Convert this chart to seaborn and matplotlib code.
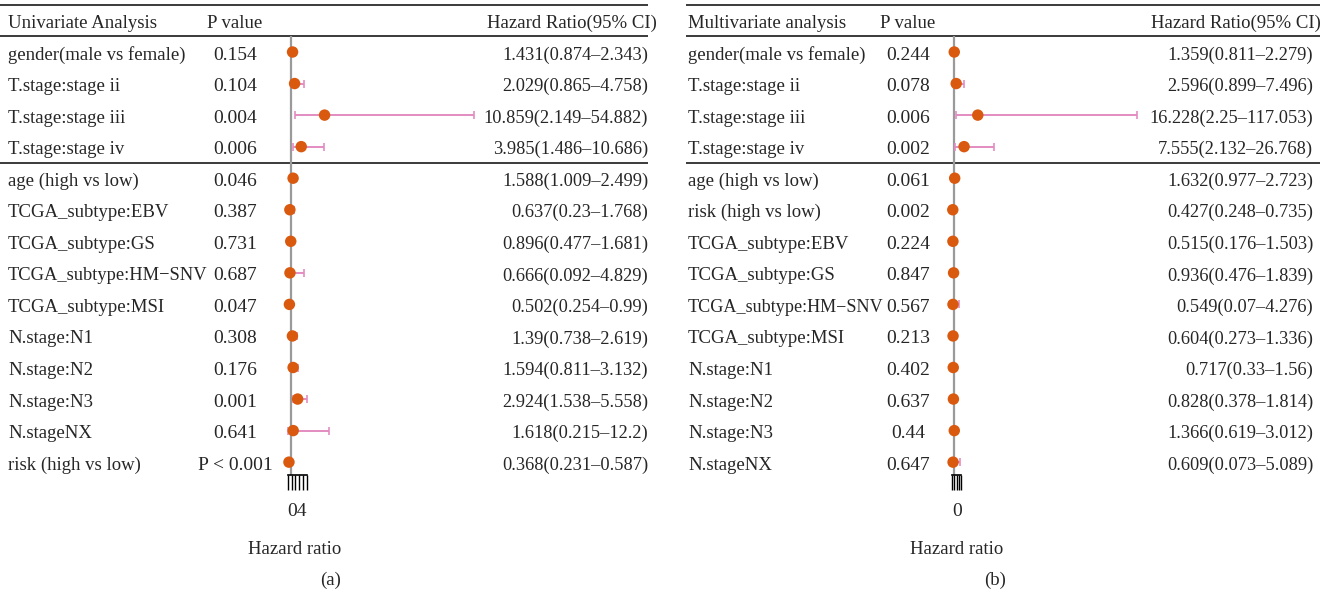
import numpy as np
import pandas as pd
import matplotlib
matplotlib.use("Agg")
import matplotlib.pyplot as plt
import seaborn as sns

# ---- Univariate Cox regression ----
uni_names = ["gender(male vs female)", "T.stage:stage ii", "T.stage:stage iii",
             "T.stage:stage iv", "age (high vs low)", "TCGA_subtype:EBV",
             "TCGA_subtype:GS", "TCGA_subtype:HM\u2212SNV", "TCGA_subtype:MSI",
             "N.stage:N1", "N.stage:N2", "N.stage:N3", "N.stageNX",
             "risk (high vs low)"]
uni_p = ["0.154", "0.104", "0.004", "0.006", "0.046", "0.387", "0.731",
         "0.687", "0.047", "0.308", "0.176", "0.001", "0.641", "P < 0.001"]
uni_hr = [1.431, 2.029, 10.859, 3.985, 1.588, 0.637, 0.896, 0.666, 0.502,
          1.39, 1.594, 2.924, 1.618, 0.368]
uni_lo = [0.874, 0.865, 2.149, 1.486, 1.009, 0.23, 0.477, 0.092, 0.254,
          0.738, 0.811, 1.538, 0.215, 0.231]
uni_hi = [2.343, 4.758, 54.882, 10.686, 2.499, 1.768, 1.681, 4.829, 0.99,
          2.619, 3.132, 5.558, 12.2, 0.587]

# ---- Multivariate Cox regression ----
multi_names = ["gender(male vs female)", "T.stage:stage ii", "T.stage:stage iii",
               "T.stage:stage iv", "age (high vs low)", "risk (high vs low)",
               "TCGA_subtype:EBV", "TCGA_subtype:GS", "TCGA_subtype:HM\u2212SNV",
               "TCGA_subtype:MSI", "N.stage:N1", "N.stage:N2", "N.stage:N3",
               "N.stageNX"]
multi_p = ["0.244", "0.078", "0.006", "0.002", "0.061", "0.002", "0.224",
           "0.847", "0.567", "0.213", "0.402", "0.637", "0.44", "0.647"]
multi_hr = [1.359, 2.596, 16.228, 7.555, 1.632, 0.427, 0.515, 0.936, 0.549,
            0.604, 0.717, 0.828, 1.366, 0.609]
multi_lo = [0.811, 0.899, 2.25, 2.132, 0.977, 0.248, 0.176, 0.476, 0.07,
            0.273, 0.33, 0.378, 0.619, 0.073]
multi_hi = [2.279, 7.496, 117.053, 26.768, 2.723, 0.735, 1.503, 1.839, 4.276,
            1.336, 1.56, 1.814, 3.012, 5.089]

sns.set_theme(style="white")
plt.rcParams["font.family"] = ["Liberation Serif", "DejaVu Serif"]

W, H = 1337, 594
fig = plt.figure(figsize=(W / 100, H / 100), dpi=100)
renderer = fig.canvas.get_renderer()

# background axes in pixel units for the table text and rules
bg = fig.add_axes([0, 0, 1, 1])
bg.set_xlim(0, W)
bg.set_ylim(H, 0)
bg.axis("off")

DOT = "#D9590F"
CI = "#E38CC1"
RULE = "#3a3a3a"
FS = 13.5
FS_P = 14
FS_HR = 13.2

ROW0, ROWSTEP = 52, 31.55


def row_y(i):
    return ROW0 + ROWSTEP * i


def put(x, y, s, ha, fs=FS, maxw=None):
    t = bg.text(x, y + 1.0, s, ha=ha, va="center_baseline", fontsize=fs)
    if maxw is not None:
        w = t.get_window_extent(renderer).width
        if w > maxw:
            t.set_fontsize(fs * maxw / w)
    return t


def panel(df, title, x_name, x_p, x_hr_end, x_hdr_end, rule_x0, rule_x1,
          ax_px, xlim, ticks, tick_text, tick_text_x, panel_tag, tag_x,
          label_x, name_w):
    # header and rules
    put(x_name, 20, title, "left")
    put(x_p, 20, "P value", "center")
    put(x_hdr_end, 20, "Hazard Ratio(95% CI)", "right")
    for yy in (5, 36, 163):
        bg.plot([rule_x0, rule_x1], [yy, yy], color=RULE, lw=1.4,
                solid_capstyle="butt")
    # table rows
    for i, r in df.iterrows():
        y = row_y(i)
        put(x_name, y, r["name"], "left", maxw=name_w)
        put(x_p, y, r["p"], "center", fs=FS_P)
        lab = f"{r['hr']:g}({r['lo']:g}\u2013{r['hi']:g})"
        put(x_hr_end, y, lab, "right", fs=FS_HR)

    # forest axes
    top_px, bot_px = 36, 475
    x0, x1 = ax_px
    ax = fig.add_axes([x0 / W, 1 - bot_px / H, (x1 - x0) / W,
                       (bot_px - top_px) / H])
    ax.patch.set_alpha(0)
    ax.set_xlim(*xlim)
    ax.set_ylim((bot_px - ROW0) / ROWSTEP, (top_px - ROW0) / ROWSTEP)
    ax.axvline(1, color="#9a9a9a", lw=1.6, zorder=1)
    ax.errorbar(df["hr"], df.index, xerr=[df["hr"] - df["lo"], df["hi"] - df["hr"]],
                fmt="none", ecolor=CI, elinewidth=1.4, capsize=3, capthick=1.2,
                zorder=2)
    sns.scatterplot(data=df, x="hr", y=df.index, ax=ax, color=DOT, s=68,
                    edgecolor="none", legend=False, zorder=3)
    for s in ("top", "right", "left"):
        ax.spines[s].set_visible(False)
    ax.spines["bottom"].set_color("black")
    ax.spines["bottom"].set_linewidth(1.2)
    ax.spines["bottom"].set_bounds(ticks[0], ticks[-1])
    ax.set_xticks(ticks)
    ax.set_xticklabels([""] * len(ticks))
    ax.tick_params(axis="x", bottom=True, length=10.5, width=1.0,
                   color="black", direction="out")
    ax.set_yticks([])
    ax.set_xlabel("")
    ax.set_ylabel("")

    put(tick_text_x, 508, tick_text, "center", fs=FS_P)
    put(label_x, 546, "Hazard ratio", "center")
    put(tag_x, 577, panel_tag, "center")


uni = pd.DataFrame({"name": uni_names, "p": uni_p, "hr": uni_hr,
                    "lo": uni_lo, "hi": uni_hi})
multi = pd.DataFrame({"name": multi_names, "p": multi_p, "hr": multi_hr,
                      "lo": multi_lo, "hi": multi_hi})

panel(uni, "Univariate Analysis", 8, 235, 648, 657, 0, 648,
      (280, 480), (-2.27, 56.66), np.linspace(0, 5.6, 6), "04", 296.5,
      "(a)", 331, 295, 200)
panel(multi, "Multivariate analysis", 688, 908, 1313, 1321, 686, 1320,
      (945, 1145), (-4.49, 121.93), np.linspace(0, 5.8, 5), "0", 957,
      "(b)", 995, 957, 196)

fig.savefig("out.png", dpi=100)
